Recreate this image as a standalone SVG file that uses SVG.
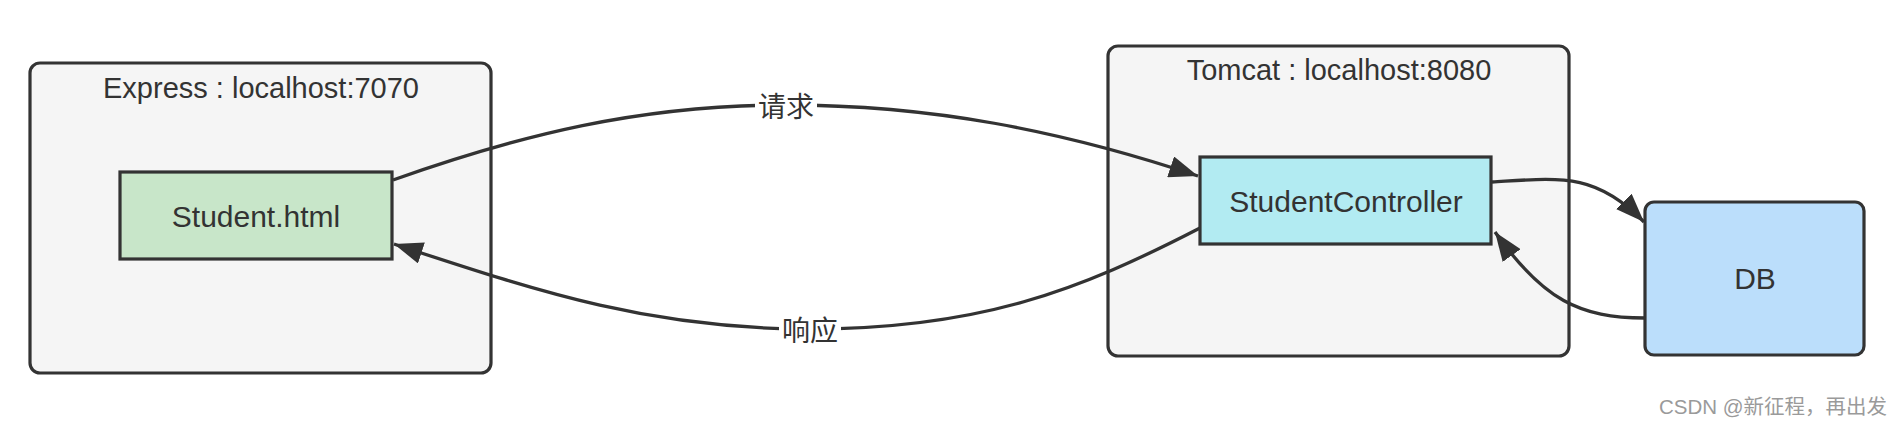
<svg xmlns="http://www.w3.org/2000/svg" width="1902" height="425" viewBox="0 0 1902 425">
<style>
.container{fill:#f5f5f5;stroke:#333;stroke-width:3.2}
.node{stroke:#333;stroke-width:3.2}
.title{font-family:"Liberation Sans",Arial,sans-serif;font-size:29px;fill:#333;text-anchor:middle}
.label{font-family:"Liberation Sans",Arial,sans-serif;font-size:30px;fill:#333;text-anchor:middle}
.edge{fill:none;stroke:#333;stroke-width:3.3;marker-end:url(#arrow)}
.elabel{font-family:"Noto Sans CJK SC",sans-serif;font-size:28px;fill:#333;text-anchor:middle}
.wm{font-family:"Liberation Sans","Noto Sans CJK SC",sans-serif;font-size:20.5px;fill:#9a9a9a;text-anchor:end}
</style>
<defs>
<marker id="arrow" markerUnits="userSpaceOnUse" markerWidth="30" markerHeight="22" refX="25" refY="9.5" orient="auto" viewBox="0 0 26 19">
<path d="M0,0 L25,9.5 L0,19 Z" fill="#333"/>
</marker>
</defs>
<rect width="1902" height="425" fill="#ffffff"/>
<g id="express">
<rect class="container" x="30" y="63" width="461" height="310" rx="10"/>
<text class="title" x="261" y="98">Express : localhost:7070</text>
</g>
<g id="tomcat">
<rect class="container" x="1108" y="46" width="461" height="310" rx="10"/>
<text class="title" x="1339" y="80">Tomcat : localhost:8080</text>
</g>
<g id="student-html">
<rect class="node" x="120" y="172" width="272" height="87" fill="#c8e6c9"/>
<text class="label" x="256" y="227">Student.html</text>
</g>
<g id="student-controller">
<rect class="node" x="1200" y="157" width="291" height="87" fill="#b2ebf2"/>
<text class="label" x="1346" y="212">StudentController</text>
</g>
<g id="db">
<rect class="node" x="1645" y="202" width="219" height="153" rx="9" fill="#bbdefb"/>
<text class="label" x="1755" y="289">DB</text>
</g>
<g id="connectors">
<path class="edge" d="M393 180 C520 135,640 105,786 105 C930 105,1060 130,1198 176"/>
<rect x="755" y="92" width="62" height="30" fill="#ffffff"/>
<text class="elabel" x="786" y="117">请求</text>
<path class="edge" d="M1200 228 C1080 290,980 329,810 329 C650 329,540 292,394 244"/>
<rect x="779" y="315" width="62" height="30" fill="#ffffff"/>
<text class="elabel" x="810" y="341">响应</text>
<path class="edge" d="M1492 182 C1560 178,1595 172,1644 222"/>
<path class="edge" d="M1645 318 C1580 318,1543 300,1495 232"/>
</g>
<text class="wm" x="1887" y="414">CSDN @新征程，再出发</text>
</svg>
